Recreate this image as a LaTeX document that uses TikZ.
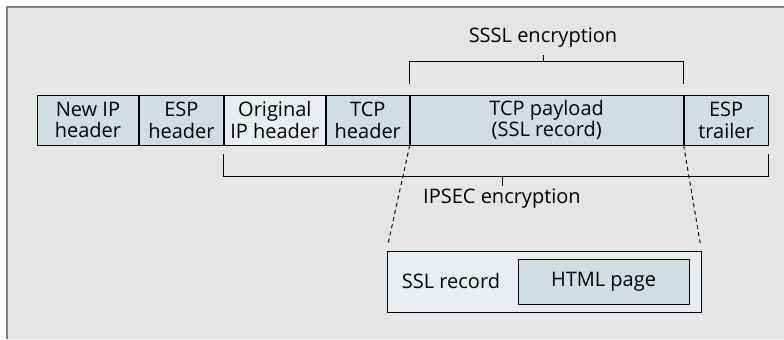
\documentclass[tikz,border=0pt]{standalone}
\usepackage{fontspec}
\setmainfont{Open Sans}
\usetikzlibrary{positioning}
\definecolor{bggray}{HTML}{E5E5E5}
\definecolor{fldblue}{HTML}{D0DDE2}
\definecolor{fldpale}{HTML}{E8EEF0}
\begin{document}
\begin{tikzpicture}[x=.75pt, y=-.75pt, line width=.7pt,
    font=\fontsize{15}{16.3}\selectfont,
    fld/.style={draw, fill=fldblue, minimum height=37.5pt, inner sep=0pt, align=center}]
\useasboundingbox (0,0) rectangle (784,339);
\fill[bggray] (7,7) rectangle (784,339);
\draw[gray, line width=1.6pt] (7,339)--(7,7)--(784,7);

% packet fields
\node (newip)[fld, minimum width=75.75pt, anchor=west] at (37,120) {New IP\\header};
\node (esp)[fld, minimum width=63pt, right=0pt of newip] {ESP\\header};
\node (orig)[fld, fill=fldpale, minimum width=75.75pt, right=0pt of esp] {Original\\IP header};
\node (tcp)[fld, minimum width=62.25pt, right=0pt of orig] {TCP\\header};
\node (payload)[fld, minimum width=204.75pt, right=0pt of tcp] {TCP payload\\(SSL record)};
\node (trailer)[fld, minimum width=63pt, right=0pt of payload] {ESP\\trailer};

% SSL bracket
\node (ssltxt) at (543,38) {SSSL encryption};
\coordinate (sslbar) at (543,62);
\draw ([yshift=8.25pt]payload.north west)--++(0,-22) -| ([yshift=8.25pt]payload.north east);
\draw (sslbar)--++(0,-7);

% IPSEC bracket
\node (ipsectxt) at (502,199) {IPSEC encryption};
\coordinate (ipsecbar) at (502,176);
\draw ([yshift=-6.75pt]orig.south west)--++(0,22) -| ([yshift=-6.75pt]trailer.south east);
\draw (ipsecbar)--++(0,10);

% SSL record
\node (ssl)[draw, fill=fldpale, minimum width=235.5pt, minimum height=45.75pt, inner sep=0pt] at (544,281.5) {};
\node (sslname) at (451,281) {SSL record};
\node (html)[fld, minimum width=128.25pt, minimum height=33.75pt] at (603.5,281.5) {HTML page};
\foreach \a in {west,east}
{
\draw[dash pattern=on 3pt off 2.5pt, shorten >=4.5pt] (payload.south \a)--(ssl.north \a);
}
\end{tikzpicture}
\end{document}
